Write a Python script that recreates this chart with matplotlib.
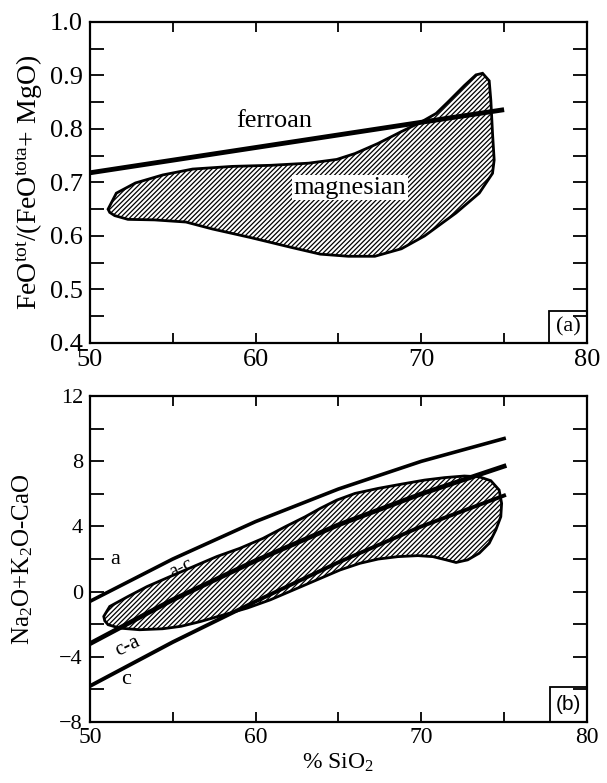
import numpy as np
import matplotlib
matplotlib.use("Agg")
import matplotlib.pyplot as plt
from matplotlib.patches import Rectangle
from matplotlib.ticker import MultipleLocator

plt.rcParams['font.family'] = ['Liberation Serif', 'DejaVu Serif']
plt.rcParams['mathtext.fontset'] = 'custom'
plt.rcParams['mathtext.rm'] = 'Liberation Serif'
plt.rcParams['mathtext.it'] = 'Liberation Serif:italic'
plt.rcParams['hatch.linewidth'] = 0.9

# --- panel (a): Fe-number vs SiO2 ---
ferroan_sio2 = [50, 75]
ferroan_fe = [0.718, 0.836]

field_a_sio2 = [51.1, 51.6, 52.75, 54.4, 56.2, 58.6, 60.9, 63.2, 64.9, 66.0, 67.4,
                68.8, 70.0, 70.9, 71.6, 72.6, 73.3, 73.7, 74.1, 74.2, 74.3, 74.4,
                74.3, 73.5, 72.1, 70.2, 68.8, 67.2, 65.6, 63.9, 62.1, 59.7, 57.4,
                55.8, 53.9, 52.3, 51.5, 51.2]
field_a_fe = [0.650, 0.680, 0.699, 0.714, 0.725, 0.730, 0.732, 0.736, 0.743, 0.754,
              0.773, 0.795, 0.813, 0.829, 0.850, 0.881, 0.901, 0.904, 0.890, 0.853,
              0.792, 0.742, 0.717, 0.680, 0.643, 0.600, 0.576, 0.562, 0.562, 0.566,
              0.579, 0.597, 0.613, 0.626, 0.630, 0.631, 0.638, 0.644]

# --- panel (b): MALI vs SiO2 ---
mali_sio2 = [50, 55, 60, 65, 70, 75]
line_a = [-0.6, 2.0, 4.3, 6.3, 8.0, 9.4]
line_ac = [-3.2, -0.5, 1.9, 4.1, 6.0, 7.7]
line_c = [-5.8, -3.1, -0.6, 1.8, 4.0, 5.9]

field_b_sio2 = [50.84, 51.2, 52.3, 53.45, 54.85, 56.25, 57.65, 59.05, 60.45, 61.8,
                63.0, 63.9, 64.9, 66.0, 67.4, 68.8, 70.2, 71.4, 72.6, 73.5, 74.2,
                74.7, 74.85, 74.8, 74.5, 74.1, 73.5, 72.8, 72.1, 71.5, 70.7, 69.8,
                68.6, 67.4, 66.3, 65.1, 63.7, 62.3, 60.9, 59.5, 58.1, 56.7, 55.5,
                54.4, 53.0, 51.8, 51.1, 50.9]
field_b_mali = [-1.52, -0.91, -0.30, 0.31, 0.93, 1.54, 2.15, 2.66, 3.27, 3.99, 4.60,
                5.11, 5.62, 6.03, 6.34, 6.60, 6.85, 7.00, 7.10, 7.05, 6.81, 6.24,
                5.42, 4.60, 3.79, 2.97, 2.36, 1.95, 1.79, 1.95, 2.15, 2.21, 2.15,
                2.00, 1.74, 1.33, 0.72, 0.11, -0.50, -1.01, -1.42, -1.83, -2.13,
                -2.28, -2.34, -2.24, -2.03, -1.79]

fig = plt.figure(figsize=(6.07, 7.83), dpi=100)
ax1 = fig.add_axes([0.148, 0.562, 0.819, 0.410])
ax2 = fig.add_axes([0.148, 0.078, 0.819, 0.416])


def style_axes(ax, xsize, ysize):
    ax.set_xlim(50, 80)
    ax.xaxis.set_major_locator(MultipleLocator(10))
    ax.xaxis.set_minor_locator(MultipleLocator(5))
    ax.tick_params(axis='both', which='both', direction='in', top=True, right=True,
                   width=1.3, colors='black')
    ax.tick_params(axis='x', which='both', length=7, labelsize=xsize, pad=4)
    ax.tick_params(axis='y', which='both', length=10, labelsize=ysize, pad=5)
    for s in ax.spines.values():
        s.set_linewidth(1.6)


# panel (a)
ax1.fill(field_a_sio2, field_a_fe, facecolor='white', edgecolor='black',
         hatch='///////', linewidth=2)
ax1.plot(ferroan_sio2, ferroan_fe, color='black', lw=3.5, solid_capstyle='butt')
ax1.set_ylim(0.4, 1.0)
ax1.yaxis.set_major_locator(MultipleLocator(0.1))
ax1.yaxis.set_minor_locator(MultipleLocator(0.05))
style_axes(ax1, 19, 19)
ax1.set_ylabel(r'FeO$^{\mathrm{tot}}$/(FeO$^{\mathrm{tota}}$+ MgO)', fontsize=20)
ax1.yaxis.set_label_coords(-0.09, 0.5)
ax1.text(61.1, 0.815, 'ferroan', fontsize=19, ha='center', va='center')
ax1.text(65.7, 0.690, 'magnesian', fontsize=19, ha='center', va='center',
         bbox=dict(facecolor='white', edgecolor='none', pad=1))
ax1.add_patch(Rectangle((0.924, 0.0), 0.076, 0.1, transform=ax1.transAxes,
                        facecolor='white', edgecolor='black', lw=1.3))
ax1.text(0.962, 0.05, '(a)', transform=ax1.transAxes, fontsize=16,
         ha='center', va='center')

# panel (b)
ax2.fill(field_b_sio2, field_b_mali, facecolor='white', edgecolor='black',
         hatch='///////', linewidth=2)
ax2.plot(mali_sio2, line_a, color='black', lw=2.6)
ax2.plot(mali_sio2, line_ac, color='black', lw=3.4)
ax2.plot(mali_sio2, line_c, color='black', lw=2.8)
ax2.set_ylim(-8, 12)
ax2.yaxis.set_major_locator(MultipleLocator(4))
ax2.yaxis.set_minor_locator(MultipleLocator(2))
style_axes(ax2, 17, 16)
ax2.set_ylabel(r'Na$_2$O+K$_2$O-CaO', fontsize=18)
ax2.yaxis.set_label_coords(-0.11, 0.5)
ax2.set_xlabel(r'% SiO$_2$', fontsize=17, labelpad=2)
ax2.text(51.5, 1.95, 'a', fontsize=16, ha='center', va='center')
ax2.text(55.5, 1.5, 'a-c', fontsize=14, ha='center', va='center', rotation=26)
ax2.text(52.3, -3.35, 'c-a', fontsize=15, ha='center', va='center', rotation=26)
ax2.text(52.2, -5.4, 'c', fontsize=16, ha='center', va='center')
ax2.add_patch(Rectangle((0.926, 0.0), 0.074, 0.107, transform=ax2.transAxes,
                        facecolor='white', edgecolor='black', lw=1.3))
ax2.text(0.963, 0.053, '(b)', transform=ax2.transAxes, fontsize=15,
         ha='center', va='center', family=['Liberation Sans', 'DejaVu Sans'])

fig.savefig('out.png', dpi=100)
